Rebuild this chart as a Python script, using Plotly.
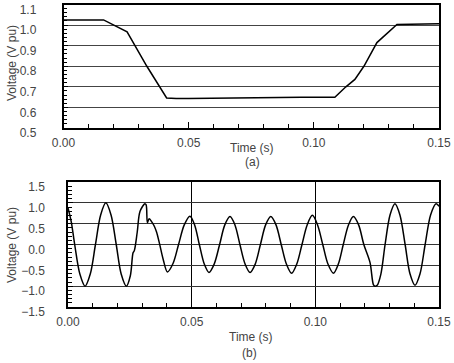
import plotly.graph_objects as go

# (a) RMS voltage
t_rms = [0.000, 0.016, 0.0254, 0.0333, 0.0412, 0.045, 0.050, 0.065, 0.080, 0.095, 0.1084, 0.1128, 0.1164, 0.120, 0.1252, 0.1332, 0.150]
v_rms = [1.025, 1.025, 0.967, 0.800, 0.646, 0.643, 0.643, 0.645, 0.650, 0.650, 0.649, 0.700, 0.736, 0.800, 0.915, 1.003, 1.006]

# (b) instantaneous voltage
t_inst = [0.0000, 0.0013, 0.0027, 0.0048, 0.0069, 0.0090, 0.0111, 0.0132, 0.0153, 0.0174, 0.0195,
          0.0215, 0.0236, 0.0252, 0.0263, 0.0268, 0.0280, 0.0291, 0.0311, 0.0316, 0.0321, 0.0328,
          0.0338, 0.0348, 0.0358, 0.0370, 0.0385, 0.0402, 0.0425, 0.0447, 0.0470, 0.0493, 0.0512,
          0.0531, 0.0551, 0.0570, 0.0591, 0.0613, 0.0634, 0.0655, 0.0675, 0.0695, 0.0716, 0.0736,
          0.0757, 0.0778, 0.0799, 0.0820, 0.0841, 0.0862, 0.0883, 0.0904, 0.0925, 0.0946, 0.0967,
          0.0988, 0.1009, 0.1030, 0.1051, 0.1073, 0.1093, 0.1113, 0.1134, 0.1154, 0.1175, 0.1196,
          0.1221, 0.1235, 0.1241, 0.1250, 0.1265, 0.1282, 0.1302, 0.1322, 0.1342, 0.1363, 0.1383,
          0.1403, 0.1423, 0.1444, 0.1466, 0.1488, 0.1500]
v_inst = [0.88, 0.55, 0.00, -0.71, -1.00, -0.71, 0.00, 0.71, 1.00, 0.71, 0.00,
          -0.71, -1.00, -0.75, -0.20, -0.15, 0.30, 0.79, 0.98, 0.95, 0.52, 0.62,
          0.55, 0.45, 0.30, 0.02, -0.36, -0.66, -0.45, 0.00, 0.47, 0.68, 0.47,
          0.00, -0.47, -0.67, -0.47, 0.00, 0.47, 0.67, 0.47, 0.00, -0.47, -0.67,
          -0.47, 0.00, 0.47, 0.67, 0.47, 0.00, -0.47, -0.69, -0.47, 0.00, 0.47,
          0.70, 0.47, 0.00, -0.47, -0.69, -0.47, 0.00, 0.47, 0.67, 0.47, 0.00,
          -0.43, -0.97, -1.00, -0.98, -0.71, 0.00, 0.71, 0.98, 0.71, 0.00, -0.71,
          -0.98, -0.71, 0.00, 0.71, 0.98, 0.92]

x_ticks = [0.00, 0.05, 0.10, 0.15]
x_labels = ["0.00", "0.05", "0.10", "0.15"]
ya_ticks = [0.5, 0.6, 0.7, 0.8, 0.9, 1.0, 1.1]
ya_labels = ["0.5", "0.6", "0.7", "0.8", "0.9", "1.0", "1.1"]
yb_ticks = [-1.5, -1.0, -0.5, 0.0, 0.5, 1.0, 1.5]
yb_labels = ["\u22121.5", "\u22121.0", "\u22120.5", "0.0", "0.5", "1.0", "1.5"]

W, H = 454, 363


def px(x):
    return x / W


def py(y):
    return 1 - y / H


fnt = dict(family="Liberation Sans, Arial, sans-serif", size=12, color="#444")

fig = go.Figure()
fig.add_trace(go.Scatter(x=t_rms, y=v_rms, mode="lines", line=dict(color="black", width=1.5),
                         xaxis="x", yaxis="y", showlegend=False))
fig.add_trace(go.Scatter(x=t_inst, y=v_inst, mode="lines", line=dict(color="black", width=1.5, shape="spline", smoothing=0.9),
                         xaxis="x2", yaxis="y2", showlegend=False))

common_x = dict(range=[0, 0.15], tickvals=x_ticks, ticktext=x_labels, ticks="inside", ticklen=6,
                tickcolor="black", showline=True, linecolor="black", linewidth=1.5, mirror=True,
                zeroline=False, tickfont=fnt, automargin=False, ticklabelstandoff=3,
                ticklabeloverflow="allow",
                minor=dict(ticks="inside", dtick=0.01, ticklen=4, tickcolor="black", showgrid=False))
common_y = dict(ticks="inside", ticklen=5, tickcolor="black", showline=True, linecolor="black",
                linewidth=1.5, mirror=True, zeroline=False, showgrid=True, gridwidth=1,
                tickfont=fnt, automargin=False, ticklabeloverflow="allow", ticklabelshift=5)

fig.update_layout(
    width=W, height=H, margin=dict(l=0, r=0, t=0, b=0, autoexpand=False),
    paper_bgcolor="white", plot_bgcolor="white",
    xaxis=dict(domain=[px(63.5), px(439)], anchor="y", showgrid=False, **common_x),
    yaxis=dict(domain=[py(128), py(4.5)], anchor="x", range=[0.5, 1.1], tickvals=ya_ticks,
               ticktext=ya_labels, gridcolor="#444", ticklabelstandoff=23,
               minor=dict(ticks="inside", dtick=0.02, ticklen=4, tickcolor="black", showgrid=False),
               **common_y),
    xaxis2=dict(domain=[px(68), px(439)], anchor="y2", showgrid=True, gridcolor="black", gridwidth=1, **common_x),
    yaxis2=dict(domain=[py(307), py(182)], anchor="x2", range=[-1.5, 1.5], tickvals=yb_ticks,
                ticktext=yb_labels, gridcolor="#333", ticklabelstandoff=19,
                minor=dict(ticks="inside", dtick=0.1, ticklen=4, tickcolor="black", showgrid=False),
                **common_y),
)

tf = dict(family="Liberation Sans, Arial, sans-serif", size=12, color="#444")
ann = [
    dict(text="Voltage (V pu)", x=px(12), y=py(63), textangle=-90),
    dict(text="Time (s)", x=px(252), y=py(148)),
    dict(text="(a)", x=px(252), y=py(162)),
    dict(text="Voltage (V pu)", x=px(12), y=py(245), textangle=-90),
    dict(text="Time (s)", x=px(251), y=py(337)),
    dict(text="(b)", x=px(250), y=py(353)),
]
for a in ann:
    fig.add_annotation(xref="paper", yref="paper", showarrow=False, font=tf,
                       xanchor="center", yanchor="middle", **a)

# remove the browser's default 8px body margin so the figure fills the window
fig.write_html("out.html", config={"displayModeBar": False},
               post_script="document.body.style.margin='0';document.body.style.overflow='hidden';")
